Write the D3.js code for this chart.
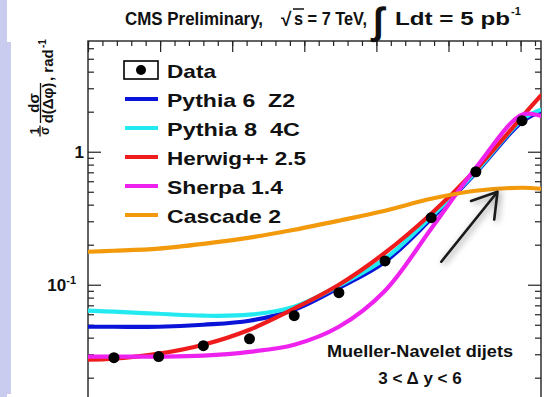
<!DOCTYPE html>
<html>
<head>
<meta charset="utf-8">
<script src="https://cdn.jsdelivr.net/npm/d3@7"></script>
<style>
  body { margin: 0; background: #fff; }
  svg { display: block; }
  text { font-family: "Liberation Sans", Arial, Helvetica, sans-serif; font-weight: bold; fill: #111; }
</style>
</head>
<body>
<svg id="chart"></svg>
<script>
// Data points (delta phi in rad, normalised cross section)
const dphiData = [0.18, 0.49, 0.80, 1.12, 1.43, 1.74, 2.06, 2.38, 2.69, 3.01];
const dataValues = [0.0283, 0.0288, 0.0348, 0.0392, 0.0585, 0.0871, 0.151, 0.319, 0.707, 1.71];

// Model curves, read at these delta phi values
const dphiModel = [0, 0.18, 0.49, 0.80, 1.12, 1.43, 1.74, 2.06, 2.38, 2.69, 3.01, 3.14];
const pythia6 = [0.0483, 0.0483, 0.0483, 0.0500, 0.0536, 0.0649, 0.0949, 0.149, 0.313, 0.695, 1.68, 2.00];
const pythia8 = [0.0638, 0.0627, 0.0605, 0.0585, 0.0595, 0.0683, 0.0983, 0.157, 0.325, 0.707, 1.74, 2.07];
const herwig = [0.0273, 0.0278, 0.0303, 0.0354, 0.0459, 0.0661, 0.100, 0.174, 0.342, 0.733, 1.83, 2.64];
const sherpa = [0.0288, 0.0288, 0.0288, 0.0293, 0.0313, 0.0354, 0.0483, 0.0902, 0.264, 0.758, 1.90, 1.86];
const cascade = [0.177, 0.180, 0.187, 0.203, 0.226, 0.259, 0.303, 0.360, 0.443, 0.509, 0.536, 0.527];

const seriesNames = ["Pythia 6  Z2", "Pythia 8  4C", "Herwig++ 2.5", "Sherpa 1.4", "Cascade 2"];
const seriesColors = ["#0a14d8", "#22eaf0", "#ee1c1c", "#ee22ee", "#f29a0c"];

// Axis ticks
const yMajorTicks = [0.1, 1];
const yMinorTicks = [0.02, 0.03, 0.04, 0.05, 0.06, 0.07, 0.08, 0.09, 0.2, 0.3, 0.4, 0.5, 0.6, 0.7, 0.8, 0.9, 2, 3, 4, 5, 6];
const xMajorTicks = [0, 0.5, 1, 1.5, 2, 2.5, 3];
const xMinorTicks = d3.range(0, 3.15, 0.1);

const W = 548, H = 397;
const plotLeft = 88, plotRight = 541, plotTop = 41;

const svg = d3.select("#chart").attr("width", W).attr("height", H);

// lavender strip on the left edge of the page
svg.append("rect").attr("x", 0).attr("y", 0).attr("width", 7).attr("height", H).attr("fill", "#c9ccef");
svg.append("rect").attr("x", 0).attr("y", 42).attr("width", 11).attr("height", 352).attr("fill", "#c9ccef");

// scales
const x = d3.scaleLinear().domain([0, Math.PI]).range([plotLeft, plotRight]);
const yDomain = [0.0125, 6.8];
const y = d3.scaleLog().domain(yDomain).range([plotTop + 133 * Math.log10(yDomain[1] / yDomain[0]), plotTop]);
const plotBottom = y(yDomain[0]);

const defs = svg.append("defs");
defs.append("clipPath").attr("id", "plot-clip")
  .append("rect").attr("x", plotLeft).attr("y", plotTop).attr("width", plotRight - plotLeft).attr("height", plotBottom - plotTop);

// frame
svg.append("rect")
  .attr("x", plotLeft).attr("y", plotTop).attr("width", plotRight - plotLeft).attr("height", plotBottom - plotTop)
  .attr("fill", "none").attr("stroke", "#222").attr("stroke-width", 1.4);

// left axis: major ticks with labels, minor ticks
const yAxisMajor = svg.append("g").attr("transform", `translate(${plotLeft},0)`)
  .call(d3.axisLeft(y).tickValues(yMajorTicks).tickSizeInner(-13).tickSizeOuter(0).tickPadding(4)
    .tickFormat(d => d === 1 ? "1" : "10"));
svg.append("g").attr("transform", `translate(${plotLeft},0)`)
  .call(d3.axisLeft(y).tickValues(yMinorTicks).tickSizeInner(-6).tickSizeOuter(0).tickFormat(""));

// right axis
svg.append("g").attr("transform", `translate(${plotRight},0)`)
  .call(d3.axisRight(y).tickValues(yMajorTicks).tickSizeInner(-13).tickSizeOuter(0).tickFormat(""));
svg.append("g").attr("transform", `translate(${plotRight},0)`)
  .call(d3.axisRight(y).tickValues(yMinorTicks).tickSizeInner(-6).tickSizeOuter(0).tickFormat(""));

// top axis
svg.append("g").attr("transform", `translate(0,${plotTop})`)
  .call(d3.axisBottom(x).tickValues(xMajorTicks).tickSizeInner(11).tickSizeOuter(0).tickFormat(""));
svg.append("g").attr("transform", `translate(0,${plotTop})`)
  .call(d3.axisBottom(x).tickValues(xMinorTicks).tickSizeInner(5).tickSizeOuter(0).tickFormat(""));

svg.selectAll(".domain").remove();
svg.selectAll(".tick line").attr("stroke", "#222").attr("stroke-width", 1.2);

yAxisMajor.selectAll(".tick text")
  .attr("font-size", 17).attr("fill", "#111")
  .each(function (d) {
    if (d === 0.1) {
      const t = d3.select(this).attr("dx", "-8");
      t.append("tspan").attr("font-size", 11).attr("dy", "-7").text("-1");
    }
  });

// model curves
const line = d3.line()
  .x(d => x(d[0]))
  .y(d => y(d[1]))
  .curve(d3.curveCatmullRom.alpha(0.5));

const curves = svg.append("g").attr("clip-path", "url(#plot-clip)");
[pythia6, pythia8, herwig, sherpa, cascade].forEach((vals, i) => {
  curves.append("path")
    .datum(dphiModel.map((d, j) => [d, vals[j]]))
    .attr("fill", "none")
    .attr("stroke", seriesColors[i])
    .attr("stroke-width", 4.2)
    .attr("stroke-linecap", "round")
    .attr("d", line);
});

// data points
curves.selectAll(".dot")
  .data(dphiData.map((d, i) => [d, dataValues[i]]))
  .enter()
  .append("circle")
  .attr("class", "dot")
  .attr("cx", d => x(d[0]))
  .attr("cy", d => y(d[1]))
  .attr("r", 5.5)
  .attr("fill", "#000");

// arrow pointing at the Cascade curve
const arrowTail = [2.45, 0.149], arrowTip = [2.84, 0.50];
const tx = x(arrowTail[0]), ty = y(arrowTail[1]), hx = x(arrowTip[0]), hy = y(arrowTip[1]);
const back = Math.atan2(ty - hy, tx - hx);
const barb = a => [hx + 28 * Math.cos(back + a), hy + 28 * Math.sin(back + a)];
const b1 = barb(0.56), b2 = barb(-0.56);
const arrowPath = `M${tx},${ty}L${hx},${hy}M${b1[0]},${b1[1]}L${hx},${hy}L${b2[0]},${b2[1]}`;
const blur = defs.append("filter").attr("id", "soft")
  .attr("x", "-20%").attr("y", "-20%").attr("width", "140%").attr("height", "140%");
blur.append("feGaussianBlur").attr("stdDeviation", 3);
svg.append("path").attr("d", arrowPath).attr("fill", "none").attr("stroke", "#555")
  .attr("stroke-width", 4).attr("opacity", 0.45).attr("filter", "url(#soft)")
  .attr("transform", "translate(2,2)");
svg.append("path").attr("d", arrowPath).attr("fill", "none").attr("stroke", "#1a1a1a")
  .attr("stroke-width", 2.6).attr("stroke-linecap", "round").attr("stroke-linejoin", "round");

// legend
const legendRows = [70, 99, 128, 157, 186, 215];
const legendWidths = [49, 128, 133, 139, 116, 114];
const legend = svg.append("g");
legend.append("rect").attr("x", 124).attr("y", 61).attr("width", 34).attr("height", 18)
  .attr("fill", "#fff").attr("stroke", "#000").attr("stroke-width", 1.6);
legend.append("circle").attr("cx", 141).attr("cy", legendRows[0]).attr("r", 5).attr("fill", "#000");
["Data"].concat(seriesNames).forEach((name, i) => {
  if (i > 0) {
    legend.append("line").attr("x1", 125).attr("x2", 158)
      .attr("y1", legendRows[i]).attr("y2", legendRows[i])
      .attr("stroke", seriesColors[i - 1]).attr("stroke-width", 4.2);
  }
  legend.append("text").attr("x", 167).attr("y", legendRows[i] + 7.5)
    .attr("font-size", 19).style("white-space", "pre")
    .attr("textLength", legendWidths[i]).attr("lengthAdjust", "spacingAndGlyphs")
    .text(name);
});

// annotation
svg.append("text").attr("x", 420).attr("y", 357).attr("text-anchor", "middle")
  .attr("font-size", 17).attr("textLength", 186).attr("lengthAdjust", "spacingAndGlyphs")
  .text("Mueller-Navelet dijets");
svg.append("text").attr("x", 420).attr("y", 384).attr("text-anchor", "middle")
  .attr("font-size", 17).style("white-space", "pre")
  .text("3 < \u0394 y < 6");

// title
const title = svg.append("g");
title.append("text").attr("x", 125).attr("y", 25).attr("font-size", 18)
  .attr("textLength", 138).attr("lengthAdjust", "spacingAndGlyphs").text("CMS Preliminary,");
title.append("text").attr("x", 281).attr("y", 26).attr("font-size", 19).text("\u221A");
title.append("line").attr("x1", 293).attr("x2", 304).attr("y1", 9).attr("y2", 9)
  .attr("stroke", "#111").attr("stroke-width", 1.5);
title.append("text").attr("x", 294).attr("y", 25).attr("font-size", 18).style("white-space", "pre")
  .attr("textLength", 73).attr("lengthAdjust", "spacingAndGlyphs").text("s = 7 TeV,");
title.append("text").attr("x", 373).attr("y", 34).attr("font-size", 38)
  .attr("font-family", "DejaVu Sans").text("\u222B");
title.append("text").attr("x", 395).attr("y", 25).attr("font-size", 18).style("white-space", "pre")
  .attr("textLength", 115).attr("lengthAdjust", "spacingAndGlyphs").text("Ldt = 5 pb");
title.append("text").attr("x", 511).attr("y", 15).attr("font-size", 11).text("-1");

// y axis title, rotated
const ylab = svg.append("g");
function rotText(sx, sy, size, str, anchor) {
  return ylab.append("text").attr("transform", `translate(${sx},${sy}) rotate(-90)`)
    .attr("font-size", size).attr("text-anchor", anchor || "middle").text(str);
}
rotText(38.5, 131, 12, "1");
rotText(49, 131, 12, "\u03C3");
ylab.append("line").attr("x1", 40).attr("x2", 40).attr("y1", 125.5).attr("y2", 136.5)
  .attr("stroke", "#111").attr("stroke-width", 1.3);
rotText(38.5, 103, 15, "d\u03C3");
ylab.append("line").attr("x1", 40.5).attr("x2", 40.5).attr("y1", 83).attr("y2", 123)
  .attr("stroke", "#111").attr("stroke-width", 1.3);
rotText(52.5, 103, 15, "d(\u0394\u03C6)");
rotText(53, 81, 15, ", rad", "start");
rotText(46, 48, 10, "-1", "start");
</script>
</body>
</html>
